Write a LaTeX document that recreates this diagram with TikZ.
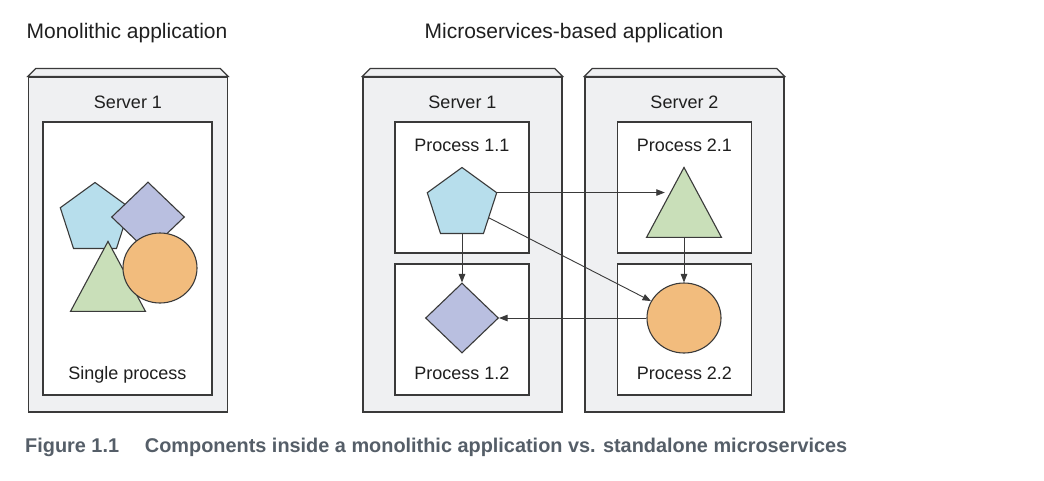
\documentclass[tikz,border=0pt]{standalone}
\usepackage{fontspec}
\setmainfont{Liberation Sans}
\usetikzlibrary{shapes.geometric,arrows.meta,calc}
\definecolor{linec}{HTML}{3A3A3A}
\definecolor{srvgray}{HTML}{EFF0F2}
\definecolor{pentblue}{HTML}{B7DEEC}
\definecolor{diampurple}{HTML}{B9BFE0}
\definecolor{trigreen}{HTML}{C9DFB9}
\definecolor{circorange}{HTML}{F2BC7D}
\definecolor{capgray}{HTML}{555E68}

\begin{document}
\begin{tikzpicture}[x=1pt,y=-1pt,>={Triangle[length=8.5pt,width=6.5pt]},
	every node/.style={font=\fontsize{18}{20}\selectfont,text=black!88},
	server/.style={draw=linec,fill=srvgray,line width=1.2pt,minimum width=199pt,minimum height=335pt,inner sep=0pt},
	procbox/.style={draw=linec,fill=white,line width=1.2pt,inner sep=0pt},
	shp/.style={draw=linec,line width=1.1pt,inner sep=0pt},
	pent/.style={shp,fill=pentblue,regular polygon,regular polygon sides=5,minimum size=73pt},
	diam/.style={shp,fill=diampurple,diamond,minimum width=73pt,minimum height=70pt},
	tri/.style={shp,fill=trigreen,isosceles triangle,isosceles triangle stretches,shape border rotate=90,minimum width=75pt,minimum height=70pt,anchor=apex},
	circ/.style={shp,fill=circorange,ellipse,minimum width=74pt,minimum height=70pt},
	conn/.style={->,draw=linec,line width=0.9pt}]
	\useasboundingbox (0,0) rectangle (1044,480);
	% titles
	\node[anchor=base,font=\fontsize{21}{24}\selectfont] (tmono) at (127,38) {Monolithic application};
	\node[anchor=base,font=\fontsize{21}{24}\selectfont] (tmicro) at (574,38) {Microservices-based application};
	% servers
	\foreach \n/\x/\t in {mono/128/Server 1,srvA/462.5/Server 1,srvB/684.5/Server 2}{
		\node[server] (\n) at (\x,244.5) {};
		\filldraw[draw=linec,fill=srvgray,line width=1.2pt] (\n.north west) -- ++(8,-8) -- ($(\n.north east)+(-8,-8)$) -- (\n.north east) -- cycle;
		\node[anchor=base] (\n-lbl) at (\x,108) {\t};
	}
	% process boxes
	\node[procbox,minimum width=169pt,minimum height=273pt] (single) at (127.5,258.5) {};
	\node[anchor=base] (single-lbl) at (127.5,379) {Single process};
	\foreach \n/\x/\y/\b/\t in {p11/462/187.5/151/Process 1.1,p12/462/329.5/379/Process 1.2,p21/684.5/187.5/151/Process 2.1,p22/684.5/329.5/379/Process 2.2}{
		\node[procbox,minimum width=134pt,minimum height=131pt] (\n) at (\x,\y) {};
		\node[anchor=base] (\n-lbl) at (\x,\b) {\t};
	}
	% monolith: everything in one process
	\node[pent] (pentM) at (95,219) {};
	\node[diam] (diamM) at (148,217) {};
	\node[tri] (triM) at (108,240) {};
	\node[circ] (circM) at (160,268) {};
	% microservices
	\node[pent] (pent11) at (462,204) {};
	\node[diam] (diam12) at (462,318) {};
	\node[tri] (tri21) at (684,166) {};
	\node[circ] (circ22) at (684,318) {};
	\draw[conn] (pent11.corner 5) -- (pent11.corner 5 -| tri21.left side);
	\draw[conn] (pent11.south) -- (diam12.north);
	\draw[conn] (pent11) -- (circ22);
	\draw[conn] (tri21.lower side) -- (circ22.north);
	\draw[conn] (circ22.west) -- (diam12.east);
	% caption
	\node[anchor=base west,inner sep=0pt,text=capgray] (cap) at (25,452) {\resizebox{822pt}{!}{\bfseries Figure 1.1\hspace{1.3em}Components inside a monolithic application vs. standalone microservices}};
\end{tikzpicture}
\end{document}
